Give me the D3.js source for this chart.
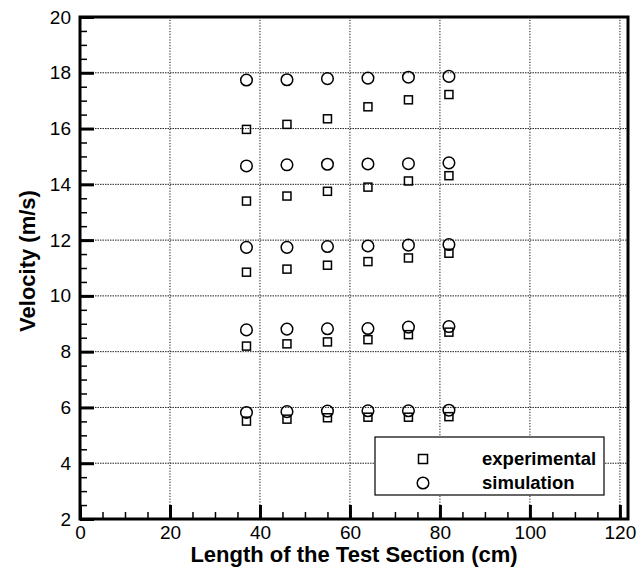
<!DOCTYPE html>
<html>
<head>
<meta charset="utf-8">
<script src="https://cdn.jsdelivr.net/npm/d3@7"></script>
<style>
  html, body { margin: 0; padding: 0; background: #fff; }
  svg { display: block; font-family: "Liberation Sans", Arial, sans-serif; }
</style>
</head>
<body>
<svg id="chart" width="642" height="571"></svg>
<script>
// ---- data ----
const lengths = [37, 46, 55, 64, 73, 82];
const experimental = [
  [5.51, 5.58, 5.63, 5.65, 5.65, 5.67],
  [8.20, 8.28, 8.35, 8.43, 8.61, 8.70],
  [10.85, 10.96, 11.10, 11.23, 11.36, 11.53],
  [13.40, 13.58, 13.75, 13.90, 14.12, 14.31],
  [15.97, 16.15, 16.35, 16.78, 17.03, 17.22]
];
const simulation = [
  [5.82, 5.85, 5.87, 5.88, 5.88, 5.90],
  [8.78, 8.81, 8.82, 8.83, 8.88, 8.90],
  [11.74, 11.74, 11.77, 11.79, 11.82, 11.84],
  [14.66, 14.70, 14.72, 14.73, 14.74, 14.77],
  [17.74, 17.75, 17.79, 17.81, 17.84, 17.87]
];
const xTicks = [0, 20, 40, 60, 80, 100, 120];
const yTicks = [2, 4, 6, 8, 10, 12, 14, 16, 18, 20];
const xGrid = [20, 40, 60, 80, 100, 120];
const yGrid = [4, 6, 8, 10, 12, 14, 16, 18];
const xMinor = d3.range(0, 121, 5);
const yMinor = d3.range(2, 20.01, 0.5);
const legendItems = ["experimental", "simulation"];

// ---- layout ----
const svg = d3.select("#chart");
const L = 80, R = 628, T = 17, B = 519;
const x = d3.scaleLinear().domain([0, 121.8]).range([L, R]);
const y = d3.scaleLinear().domain([2, 20]).range([B, T]);

// grid
const grid = svg.append("g");
grid.selectAll("line.vg").data(xGrid).join("line")
  .attr("x1", d => x(d)).attr("x2", d => x(d))
  .attr("y1", T).attr("y2", B)
  .attr("stroke", "#111").attr("stroke-width", 1).attr("stroke-dasharray", "1.2,1.6");
grid.selectAll("line.hg").data(yGrid).join("line")
  .attr("x1", L).attr("x2", R)
  .attr("y1", d => y(d)).attr("y2", d => y(d))
  .attr("stroke", "#222").attr("stroke-width", 1).attr("stroke-dasharray", "1.5,1");

// minor ticks
svg.append("g").attr("transform", `translate(0,${B})`)
  .call(d3.axisTop(x).tickValues(xMinor).tickSize(7).tickFormat(""))
  .call(g => g.select(".domain").remove())
  .call(g => g.selectAll(".tick line").attr("stroke", "#000").attr("stroke-width", 1.5));
svg.append("g").attr("transform", `translate(${L},0)`)
  .call(d3.axisRight(y).tickValues(yMinor).tickSize(7).tickFormat(""))
  .call(g => g.select(".domain").remove())
  .call(g => g.selectAll(".tick line").attr("stroke", "#000").attr("stroke-width", 1.5));

// major ticks
svg.append("g").attr("transform", `translate(0,${B})`)
  .call(d3.axisTop(x).tickValues(xTicks).tickSize(14).tickFormat(""))
  .call(g => g.select(".domain").remove())
  .call(g => g.selectAll(".tick line").attr("stroke", "#000").attr("stroke-width", 3));
svg.append("g").attr("transform", `translate(${L},0)`)
  .call(d3.axisRight(y).tickValues(yTicks).tickSize(14).tickFormat(""))
  .call(g => g.select(".domain").remove())
  .call(g => g.selectAll(".tick line").attr("stroke", "#000").attr("stroke-width", 3));

// tick labels
svg.append("g").attr("transform", `translate(0,${B})`)
  .call(d3.axisBottom(x).tickValues(xTicks).tickSize(0).tickPadding(7))
  .call(g => g.select(".domain").remove())
  .call(g => g.selectAll(".tick text").attr("font-size", 19).attr("fill", "#000")
    .attr("font-family", "Liberation Sans, Arial, sans-serif"));
svg.append("g").attr("transform", `translate(${L},0)`)
  .call(d3.axisLeft(y).tickValues(yTicks).tickSize(0).tickPadding(9))
  .call(g => g.select(".domain").remove())
  .call(g => g.selectAll(".tick text").attr("font-size", 19).attr("fill", "#000")
    .attr("font-family", "Liberation Sans, Arial, sans-serif"));

// frame
svg.append("rect").attr("x", L).attr("y", T).attr("width", R - L).attr("height", B - T)
  .attr("fill", "none").attr("stroke", "#000").attr("stroke-width", 3);

// data points
const pts = (arr) => arr.flatMap(row => row.map((v, i) => ({ x: lengths[i], y: v })));
const sq = 8;
svg.append("g").selectAll("rect").data(pts(experimental)).join("rect")
  .attr("x", d => x(d.x) - sq / 2).attr("y", d => y(d.y) - sq / 2)
  .attr("width", sq).attr("height", sq)
  .attr("fill", "none").attr("stroke", "#000").attr("stroke-width", 1.5);
svg.append("g").selectAll("circle").data(pts(simulation)).join("circle")
  .attr("cx", d => x(d.x)).attr("cy", d => y(d.y)).attr("r", 5.8)
  .attr("fill", "none").attr("stroke", "#000").attr("stroke-width", 1.5);

// legend
const lg = svg.append("g");
lg.append("rect").attr("x", 375).attr("y", 437).attr("width", 229).attr("height", 58)
  .attr("fill", "#fff").attr("stroke", "#000").attr("stroke-width", 1.2);
lg.append("rect").attr("x", 423 - 4.5).attr("y", 459 - 4.5).attr("width", 9).attr("height", 9)
  .attr("fill", "none").attr("stroke", "#000").attr("stroke-width", 1.5);
lg.append("circle").attr("cx", 423).attr("cy", 483).attr("r", 5.8)
  .attr("fill", "none").attr("stroke", "#000").attr("stroke-width", 1.5);
lg.selectAll("text").data(legendItems).join("text")
  .attr("x", 482).attr("y", (d, i) => 465 + i * 24)
  .attr("font-size", 18.5).attr("font-weight", "bold").text(d => d);

// axis titles
svg.append("text").attr("x", (L + R) / 2).attr("y", 562).attr("text-anchor", "middle")
  .attr("font-size", 22).attr("font-weight", "bold").text("Length of the Test Section (cm)");
svg.append("text").attr("transform", `translate(35,${(T + B) / 2 - 7}) rotate(-90)`)
  .attr("text-anchor", "middle")
  .attr("font-size", 22).attr("font-weight", "bold").text("Velocity (m/s)");
</script>
</body>
</html>
